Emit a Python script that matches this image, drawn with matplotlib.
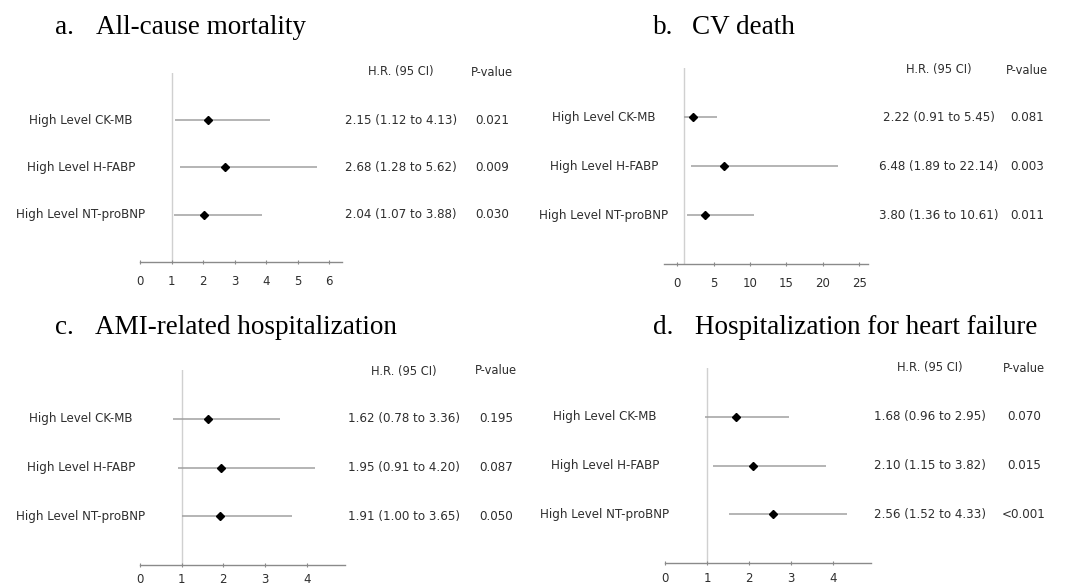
import matplotlib.pyplot as plt
import matplotlib.transforms as mtransforms

W, H = 1078, 588

markers = ["High Level CK-MB", "High Level H-FABP", "High Level NT-proBNP"]

# a. All-cause mortality
hr_a = [2.15, 2.68, 2.04]
lo_a = [1.12, 1.28, 1.07]
hi_a = [4.13, 5.62, 3.88]
p_a = ["0.021", "0.009", "0.030"]

# b. CV death
hr_b = [2.22, 6.48, 3.80]
lo_b = [0.91, 1.89, 1.36]
hi_b = [5.45, 22.14, 10.61]
p_b = ["0.081", "0.003", "0.011"]

# c. AMI-related hospitalization
hr_c = [1.62, 1.95, 1.91]
lo_c = [0.78, 0.91, 1.00]
hi_c = [3.36, 4.20, 3.65]
p_c = ["0.195", "0.087", "0.050"]

# d. Hospitalization for heart failure
hr_d = [1.68, 2.10, 2.56]
lo_d = [0.96, 1.15, 1.52]
hi_d = [2.95, 3.82, 4.33]
p_d = ["0.070", "0.015", "<0.001"]

ticks_a = [0, 1, 2, 3, 4, 5, 6]
ticks_b = [0, 5, 10, 15, 20, 25]
ticks_c = [0, 1, 2, 3, 4]
ticks_d = [0, 1, 2, 3, 4]


def fx(x):
    return x / W


def fy(y):
    return 1 - y / H


fig = plt.figure(figsize=(W / 100, H / 100), dpi=100)
fig.patch.set_facecolor("white")

txt_col = "#2e2e2e"


def panel(box, xlim, ticks, hr, lo, hi, pv, letter, title, title_xy, lab_x, hr_x, p_x, head_y, pad=8):
    left, top, right, bottom = box
    ax = fig.add_axes([fx(left), fy(bottom), fx(right - left), (bottom - top) / H])
    ax.set_xlim(*xlim)
    ax.set_ylim(0, 4)
    for s in ["top", "right", "left"]:
        ax.spines[s].set_visible(False)
    ax.spines["bottom"].set_color("#8a8a8a")
    ax.spines["bottom"].set_linewidth(1.0)
    ax.set_yticks([])
    ax.set_xticks(ticks)
    ax.tick_params(axis="x", direction="inout", length=3, width=0.8, colors="#8a8a8a",
                   labelcolor=txt_col, labelsize=8.5, pad=pad)
    ax.axvline(1, color="#d0d0d0", lw=1.0, zorder=1)

    rows = [3, 2, 1]
    ax.hlines(rows, lo, hi, color="#a0a0a0", lw=1.1, zorder=2)
    ax.plot(hr, rows, "D", color="black", markersize=4.5, zorder=3)

    tr = mtransforms.blended_transform_factory(fig.transFigure, ax.transData)
    for r, name, h, l, u, p in zip(rows, markers, hr, lo, hi, pv):
        ax.text(fx(lab_x), r, name, transform=tr, ha="center", va="center",
                fontsize=8.6, color=txt_col)
        ax.text(fx(hr_x), r, f"{h:.2f} ({l:.2f} to {u:.2f})", transform=tr,
                ha="center", va="center", fontsize=8.6, color=txt_col)
        ax.text(fx(p_x), r, p, transform=tr, ha="center", va="center",
                fontsize=8.6, color=txt_col)

    fig.text(fx(hr_x), fy(head_y), "H.R. (95 CI)", ha="center", va="center",
             fontsize=8.3, color=txt_col)
    fig.text(fx(p_x), fy(head_y), "P-value", ha="center", va="center",
             fontsize=8.3, color=txt_col)

    tx, ty, lx = title_xy
    fig.text(fx(lx), fy(ty), letter, ha="left", va="center",
             fontsize=19.5, family="Liberation Serif", color="black")
    fig.text(fx(tx), fy(ty), title, ha="left", va="center",
             fontsize=19.5, family="Liberation Serif", color="black")
    return ax


panel((140, 73, 342, 262), (0, 6.4), ticks_a, hr_a, lo_a, hi_a, p_a,
      "a.", "All-cause mortality", (96, 28, 55), 81, 401, 492, 72)
panel((664, 68, 868, 264), (-1.8, 26.2), ticks_b, hr_b, lo_b, hi_b, p_b,
      "b.", "CV death", (692, 27, 653), 604, 939, 1027, 70)
panel((140, 370, 345, 565), (0, 4.92), ticks_c, hr_c, lo_c, hi_c, p_c,
      "c.", "AMI-related hospitalization", (95, 327, 55), 81, 404, 496, 371, pad=4)
panel((665, 368, 871, 563), (0, 4.9), ticks_d, hr_d, lo_d, hi_d, p_d,
      "d.", "Hospitalization for heart failure", (695, 327, 653), 605, 930, 1024, 368, pad=5)

fig.savefig("out.png", dpi=100)
